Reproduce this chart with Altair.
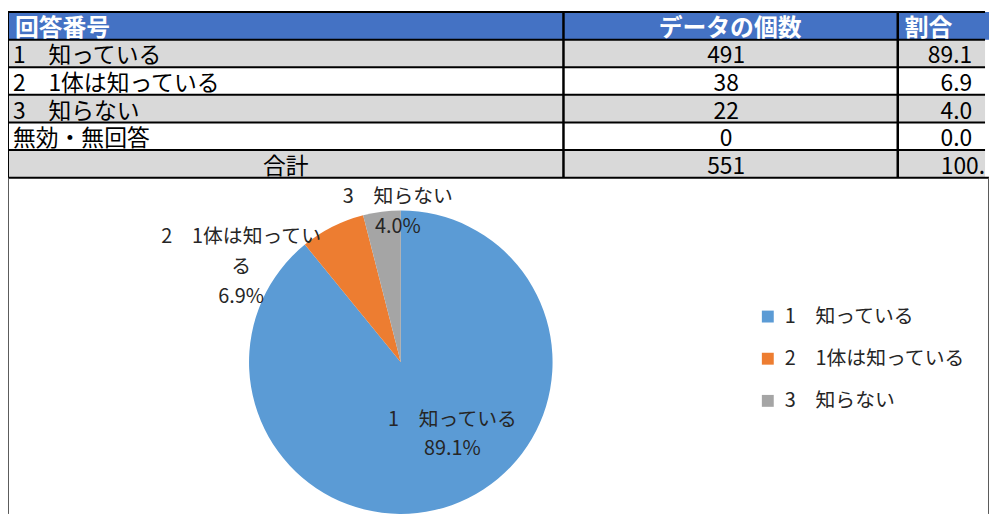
import altair as alt
import pandas as pd

# ---------------- data ----------------
headers = ["回答番号", "データの個数", "割合"]
categories = ["1\u3000知っている", "2\u30001体は知っている", "3\u3000知らない", "無効・無回答"]
counts = [491, 38, 22, 0]
shares = [89.1, 6.9, 4.0, 0.0]
total_label = "合計"
total_count = 551
total_share = 100.0
pie_categories = categories[:3]
pie_counts = counts[:3]
pie_shares = shares[:3]

# ---------------- layout / style ----------------
W, H = 989, 508
ROW_TOP, ROW_BOTTOM = 2, 169
COL_DIV = [560, 897]
TABLE_RIGHT = 985
BLUE, GREY, WHITE = "#4472C4", "#D9D9D9", "#FFFFFF"
FONT = "Noto Sans CJK JP"
TXT = "#262626"
PIE_COLORS = ["#5B9BD5", "#ED7D31", "#A5A5A5"]
PIE_X, PIE_Y, PIE_R = 396, 355, 153
LABEL_X = [448, 235, 393]
LABEL_Y = [413, 229, 189]
LABEL_WRAP = [None, 9, None]

HEADER_KEY = "__header__"
rows = [HEADER_KEY] + categories + [total_label]
row_fill = [BLUE, GREY, WHITE, GREY, WHITE, GREY]
row_right = [W] + [TABLE_RIGHT] * (len(rows) - 1)

row_scale = alt.Scale(domain=rows, range=[ROW_TOP, ROW_BOTTOM], paddingInner=0, paddingOuter=0)


def Yrow(**kw):
    return alt.Y("row:N", scale=row_scale, axis=None, **kw)


# cell backgrounds
cells_df = pd.DataFrame({"row": rows, "x0": 0, "x1": row_right, "fill": row_fill})
cells = alt.Chart(cells_df).mark_rect().encode(
    y=Yrow(), x=alt.X("x0:Q", scale=None), x2="x1:Q", fill=alt.Fill("fill:N", scale=None)
)

# grid lines
hlines = alt.Chart(pd.DataFrame({"row": rows})).mark_rule(color="black", strokeWidth=2).encode(
    y=Yrow(bandPosition=0), x=alt.value(0), x2=alt.value(TABLE_RIGHT)
)
hbottom = alt.Chart(pd.DataFrame({"row": [total_label]})).mark_rule(color="black", strokeWidth=2).encode(
    y=Yrow(bandPosition=1), x=alt.value(0), x2=alt.value(W)
)
vlines = alt.Chart(pd.DataFrame({"xv": COL_DIV})).mark_rule(color="black", strokeWidth=2.5).encode(
    x=alt.X("xv:Q", scale=None), y=alt.value(ROW_TOP), y2=alt.value(ROW_BOTTOM)
)
left_edge = alt.Chart(pd.DataFrame({"a": [0]})).mark_rule(color="black", strokeWidth=2).encode(
    x=alt.value(0), y=alt.value(ROW_TOP), y2=alt.value(ROW_BOTTOM)
)
box_left = alt.Chart(pd.DataFrame({"a": [0]})).mark_rule(color="#595959", strokeWidth=1).encode(
    x=alt.value(0.5), y=alt.value(ROW_BOTTOM), y2=alt.value(H)
)
box_right = alt.Chart(pd.DataFrame({"a": [0]})).mark_rule(color="#595959", strokeWidth=1).encode(
    x=alt.value(988.5), y=alt.value(ROW_BOTTOM), y2=alt.value(H)
)

# header text
hdr_common = dict(baseline="alphabetic", dy=10, font=FONT, fontSize=24, fontWeight="bold", color="white")
hdr_left = alt.Chart(pd.DataFrame({"row": HEADER_KEY, "text": [headers[0], headers[2]], "tx": [7, 904]})).mark_text(
    align="left", **hdr_common).encode(y=Yrow(), x=alt.X("tx:Q", scale=None), text="text:N")
hdr_center = alt.Chart(pd.DataFrame({"row": HEADER_KEY, "text": [headers[1]], "tx": [728]})).mark_text(
    align="center", **hdr_common).encode(y=Yrow(), x=alt.X("tx:Q", scale=None), text="text:N")

# body text
body_common = dict(baseline="alphabetic", dy=10, font=FONT, fontSize=23, color="black")
lab_df = pd.DataFrame({"row": categories, "text": categories, "tx": 5})
body_left = alt.Chart(lab_df).mark_text(align="left", **body_common).encode(
    y=Yrow(), x=alt.X("tx:Q", scale=None), text="text:N")

center_df = pd.DataFrame({
    "row": categories + [total_label, total_label],
    "text": [str(c) for c in counts] + [total_label, str(total_count)],
    "tx": [724] * len(categories) + [280, 724],
})
body_center = alt.Chart(center_df).mark_text(align="center", **body_common).encode(
    y=Yrow(), x=alt.X("tx:Q", scale=None), text="text:N")

right_df = pd.DataFrame({
    "row": categories + [total_label],
    "text": [f"{s:.1f}" for s in shares] + [f"{total_share:.0f}."],
    "tx": [972] * len(categories) + [985],
})
body_right = alt.Chart(right_df).mark_text(align="right", **body_common).encode(
    y=Yrow(), x=alt.X("tx:Q", scale=None), text="text:N")

# pie
pie_df = pd.DataFrame({"category": pie_categories, "count": pie_counts, "idx": list(range(len(pie_categories)))})
pie = alt.Chart(pie_df).mark_arc(outerRadius=PIE_R).encode(
    theta=alt.Theta("count:Q", stack=True),
    color=alt.Color(
        "category:N",
        scale=alt.Scale(domain=pie_categories, range=PIE_COLORS),
        legend=alt.Legend(
            orient="none", legendX=756, legendY=299, title=None,
            symbolType="square", symbolSize=144, symbolStrokeWidth=0,
            labelFont=FONT, labelFontSize=20, labelColor=TXT,
            rowPadding=22.5, labelOffset=7, padding=0, labelLimit=400,
        ),
    ),
    order=alt.Order("idx:Q", sort="ascending"),
    x=alt.value(PIE_X),
    y=alt.value(PIE_Y),
)


def wrap(s, n):
    return s if n is None else s[:n] + "\n" + s[n:]


plab_df = pd.DataFrame({
    "text": [wrap(c, w) + "\n" + f"{s:.1f}%" for c, w, s in zip(pie_categories, LABEL_WRAP, pie_shares)],
    "lx": LABEL_X,
    "ly": LABEL_Y,
})
pie_labels = alt.Chart(plab_df).mark_text(
    lineBreak="\n", lineHeight=30, align="center", baseline="middle",
    font=FONT, fontSize=20, color=TXT,
).encode(x=alt.X("lx:Q", scale=None), y=alt.Y("ly:Q", scale=None), text="text:N")

chart = alt.layer(
    cells, hlines, hbottom, vlines, left_edge, box_left, box_right,
    hdr_left, hdr_center, body_left, body_center, body_right,
    pie, pie_labels,
).resolve_scale(x="independent", y="independent").properties(
    width=W, height=H, autosize=alt.AutoSizeParams(type="none"), padding=0
).configure_view(stroke=None)

chart.save("out.html", embed_options={"renderer": "svg", "actions": False})
